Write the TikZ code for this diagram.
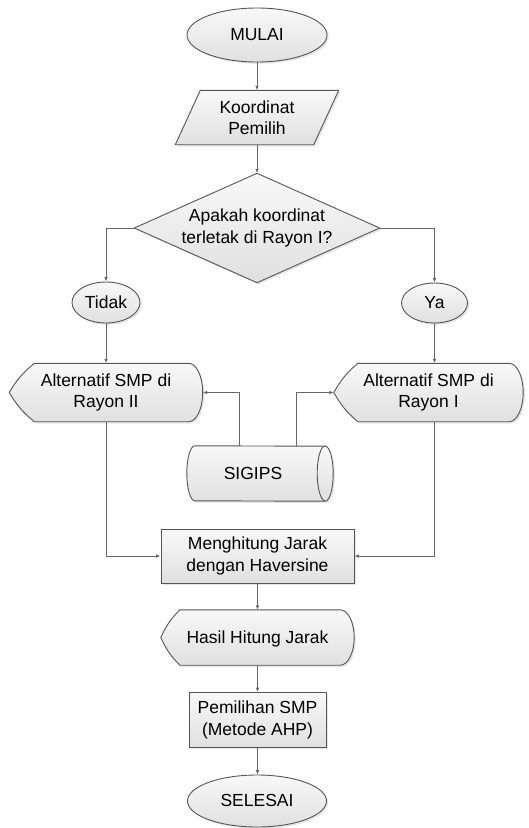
\documentclass[tikz,border=0pt]{standalone}
\usepackage{fontspec}
\setmainfont{Liberation Sans}
\usetikzlibrary{shapes.geometric,arrows.meta,calc,shadows,backgrounds}

\definecolor{edgegray}{HTML}{555555}
\definecolor{wiregray}{HTML}{666666}
\definecolor{filltop}{HTML}{F8F8F8}
\definecolor{fillbottom}{HTML}{E0E0E0}

\tikzset{
  txt/.style={font=\fontsize{17.5}{21.5}\selectfont},
  solid fill/.style={draw=edgegray, line width=0.9pt, top color=filltop,
    bottom color=fillbottom,
    drop shadow={shadow xshift=1.8pt, shadow yshift=-1.8pt, opacity=0.2}},
  holder/.style={rectangle, draw=none, inner sep=0pt, align=center, txt},
  oneline/.style={text height=12.6pt, text depth=1.5pt},
  terminal/.style={ellipse, solid fill, inner sep=0pt, align=center, txt, oneline},
  process/.style={rectangle, solid fill, inner sep=0pt, align=center, txt},
  wire/.style={draw=wiregray, line width=0.9pt, -{Latex[length=4.5pt,width=3.6pt]}},
}

% display symbol: pointed left end, rounded right end
% #1 node name, #2 length of the pointed part
\newcommand\displayoutline[2]{%
  \path[solid fill] (#1.west) to[bend left=10] ($(#1.north west)+(#2,0)$)
    -- ($(#1.north east)+(-14,0)$)
    .. controls ($(#1.north east)+(-6.3,0)$) and ($(#1.east)!0.552!(#1.north east)$) .. (#1.east)
    .. controls ($(#1.east)!0.552!(#1.south east)$) and ($(#1.south east)+(-6.3,0)$) .. ($(#1.south east)+(-14,0)$)
    -- ($(#1.south west)+(#2,0)$) to[bend left=10] (#1.west) -- cycle;}

\begin{document}
\begin{tikzpicture}[x=1pt,y=-1pt]
\path[use as bounding box] (0,0) rectangle (528,828);

% nodes
\node[terminal, minimum width=140pt, minimum height=54pt] (start) at (257,35) {MULAI};
\node[holder, minimum width=163pt, minimum height=54pt] (inp) at (257,117.5) {Koordinat\\Pemilih};
\node[holder, minimum width=245pt, minimum height=109pt] (dec) at (257,228) {Apakah koordinat\\terletak di Rayon I?};
\node[terminal, minimum width=68pt, minimum height=41pt] (no) at (106,302.5) {Tidak};
\node[terminal, minimum width=66pt, minimum height=40pt] (yes) at (434.5,303) {Ya};
\node[holder, minimum width=193pt, minimum height=58pt] (alt2) at (106,392.5) {Alternatif SMP di\\Rayon II};
\node[holder, minimum width=189pt, minimum height=58pt] (alt1) at (428.5,392.5) {Alternatif SMP di\\Rayon I};
\node[holder, oneline, minimum width=132pt, minimum height=55pt] (db) at (253,473.5) {SIGIPS};
\node[process, minimum width=193pt, minimum height=54pt] (calc) at (257.5,556) {Menghitung Jarak\\dengan Haversine};
\node[holder, oneline, minimum width=193pt, minimum height=55pt] (res) at (257.5,637.5) {Hasil Hitung Jarak};
\node[process, minimum width=137pt, minimum height=55pt] (pick) at (257.5,720) {Pemilihan SMP\\(Metode AHP)};
\node[terminal, minimum width=139pt, minimum height=52pt] (end) at (257,801) {SELESAI};

% outlines of the symbols behind the texts
\begin{pgfonlayer}{background}
  % input parallelogram
  \path[solid fill] ($(inp.north west)+(25,0)$) -- (inp.north east)
    -- ($(inp.south east)+(-25,0)$) -- (inp.south west) -- cycle;
  % decision diamond
  \path[solid fill] (dec.north) -- (dec.east) -- (dec.south) -- (dec.west) -- cycle;
  % display symbols
  \displayoutline{alt2}{25}
  \displayoutline{alt1}{24}
  \displayoutline{res}{19}
  % stored data cylinder
  \path[solid fill] ($(db.north west)+(8,0)$)
    arc[start angle=270, end angle=90, x radius=8, y radius=27.5]
    -- ($(db.south east)+(6,0)$)
    arc[start angle=90, end angle=-90, x radius=8, y radius=27.5] -- cycle;
  \draw[edgegray, line width=0.9pt] ($(db.north east)+(6,0)$)
    arc[start angle=270, end angle=90, x radius=8, y radius=27.5];
\end{pgfonlayer}

% connectors
\draw[wire] (start.south) -- (start.south |- inp.north);
\draw[wire] (inp.south) -- (inp.south |- dec.north);
\draw[wire] (dec.west) -| (no.north);
\draw[wire] (dec.east) -| (yes.north);
\draw[wire] (no.south) -- (no.south |- alt2.north);
\draw[wire] (yes.south) -- (yes.south |- alt1.north);
\draw[wire] ($(db.north west)+(53,0)$) |- (alt2.east);
\draw[wire] ($(db.north west)+(110,0)$) |- (alt1.west);
\draw[wire] (alt2.south) |- (calc.west);
\draw[wire] (yes.south |- alt1.south) |- (calc.east);
\draw[wire] (calc.south) -- (calc.south |- res.north);
\draw[wire] (res.south) -- (res.south |- pick.north);
\draw[wire] (pick.south) -- (pick.south |- end.north);
\end{tikzpicture}
\end{document}
